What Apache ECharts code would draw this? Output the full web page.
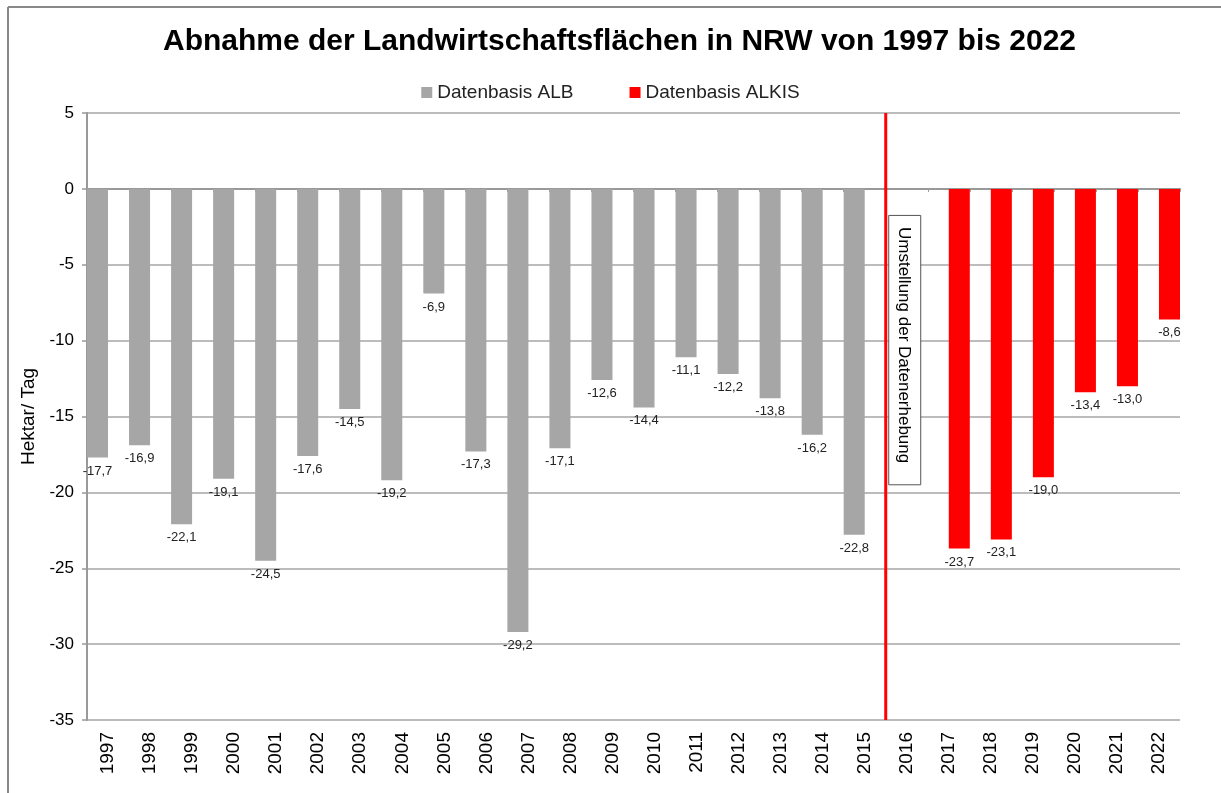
<!DOCTYPE html>
<html>
<head>
<meta charset="utf-8">
<script src="https://cdn.jsdelivr.net/npm/echarts@6/dist/echarts.min.js"></script>
<style>
  html, body { margin: 0; padding: 0; background: #fff; }
  #chart { width: 1221px; height: 793px; }
</style>
</head>
<body>
<div id="chart"></div>
<script>
// Jahre
const years = ['1997', '1998', '1999', '2000', '2001', '2002', '2003', '2004', '2005', '2006', '2007',
  '2008', '2009', '2010', '2011', '2012', '2013', '2014', '2015', '2016', '2017', '2018', '2019',
  '2020', '2021', '2022']

// Datenbasis ALB (bis 2015)
const albValues = [-17.7, -16.9, -22.1, -19.1, -24.5, -17.6, -14.5, -19.2, -6.9, -17.3, -29.2,
  -17.1, -12.6, -14.4, -11.1, -12.2, -13.8, -16.2, -22.8, null, null, null, null, null, null, null]

// Datenbasis ALKIS (ab 2017)
const alkisValues = [null, null, null, null, null, null, null, null, null, null, null,
  null, null, null, null, null, null, null, null, null, -23.7, -23.1, -19.0, -13.4, -13.0, -8.6]

const yTicks = { min: -35, max: 5, interval: 5 }

const fontFamily = '"Liberation Sans", Arial, sans-serif'

const chart = echarts.init(document.getElementById('chart'))

function labelFmt(p) {
  return p.value == null ? '' : p.value.toFixed(1).replace('.', ',')
}

chart.setOption({
  animation: false,
  textStyle: { fontFamily: fontFamily },
  title: {
    text: 'Abnahme der Landwirtschaftsflächen in NRW von 1997 bis 2022',
    left: 158,
    top: 22,
    textStyle: { fontSize: 30, fontWeight: 'bold', color: '#000', fontFamily: fontFamily }
  },
  legend: {
    top: 78,
    left: 'center',
    itemWidth: 11,
    itemHeight: 11,
    itemGap: 56,
    icon: 'rect',
    textStyle: { fontSize: 19, color: '#222', fontFamily: fontFamily },
    data: ['Datenbasis ALB', 'Datenbasis ALKIS']
  },
  grid: { left: 87, right: 41, top: 113, bottom: 73 },
  xAxis: [
    {
      type: 'category',
      data: years,
      position: 'bottom',
      axisLine: { show: false, onZero: false },
      axisTick: { show: false },
      axisLabel: { rotate: 90, fontSize: 19, color: '#000', margin: 12, fontFamily: fontFamily }
    },
    {
      type: 'category',
      data: years,
      position: 'top',
      axisLine: { show: true, onZero: true, lineStyle: { color: '#999', width: 2 } },
      axisTick: { show: true, inside: true, length: 3, lineStyle: { color: '#999' } },
      axisLabel: { show: false }
    }
  ],
  yAxis: {
    type: 'value',
    min: yTicks.min,
    max: yTicks.max,
    interval: yTicks.interval,
    name: 'Hektar/ Tag',
    nameLocation: 'middle',
    nameGap: 34,
    nameTextStyle: { fontSize: 19, color: '#000', fontFamily: fontFamily },
    axisLine: { show: true, lineStyle: { color: '#999', width: 2 } },
    axisTick: { show: true, length: 5, lineStyle: { color: '#999', width: 1.5 } },
    axisLabel: { fontSize: 17, color: '#000', margin: 13, fontFamily: fontFamily },
    splitLine: { lineStyle: { color: '#a6a6a6', width: 1.5 } }
  },
  series: [
    {
      name: 'Datenbasis ALB',
      type: 'bar',
      data: albValues,
      barGap: '0%',
      barCategoryGap: '0%',
      itemStyle: { color: '#a6a6a6' },
      label: {
        show: true,
        position: 'bottom',
        distance: 7,
        fontSize: 13,
        color: '#222',
        formatter: labelFmt
      }
    },
    {
      name: 'Datenbasis ALKIS',
      type: 'bar',
      data: alkisValues,
      barGap: '0%',
      barCategoryGap: '0%',
      itemStyle: { color: '#ff0000' },
      label: {
        show: true,
        position: 'bottom',
        distance: 7,
        fontSize: 13,
        color: '#222',
        formatter: labelFmt
      }
    }
  ]
})

// Umstellungslinie zwischen 2015 und 2016 + Hinweisbox
function drawAnnotations() {
  const x15 = chart.convertToPixel({ xAxisIndex: 0 }, '2015')
  const x16 = chart.convertToPixel({ xAxisIndex: 0 }, '2016')
  const xLine = (x15 + x16) / 2
  const yTop = chart.convertToPixel({ yAxisIndex: 0 }, yTicks.max)
  const yBottom = chart.convertToPixel({ yAxisIndex: 0 }, yTicks.min)
  const boxTop = chart.convertToPixel({ yAxisIndex: 0 }, -1.75)
  const boxBottom = chart.convertToPixel({ yAxisIndex: 0 }, -19.5)
  const boxLeft = xLine + 3
  const boxWidth = 32

  chart.setOption({
    graphic: [
      {
        type: 'line',
        shape: { x1: 8, y1: 7, x2: 1221, y2: 7 },
        style: { stroke: '#888', lineWidth: 2 }
      },
      {
        type: 'line',
        shape: { x1: 8, y1: 7, x2: 8, y2: 793 },
        style: { stroke: '#888', lineWidth: 2 }
      },
      {
        type: 'line',
        z: 10,
        shape: { x1: xLine, y1: yTop, x2: xLine, y2: yBottom },
        style: { stroke: '#ff0000', lineWidth: 3 }
      },
      {
        type: 'rect',
        z: 10,
        shape: { x: boxLeft, y: boxTop, width: boxWidth, height: boxBottom - boxTop },
        style: { fill: '#fff', stroke: '#555', lineWidth: 1 }
      },
      {
        type: 'text',
        z: 11,
        x: boxLeft + boxWidth / 2 - 1,
        y: (boxTop + boxBottom) / 2 - 5,
        rotation: -Math.PI / 2,
        style: {
          text: 'Umstellung der Datenerhebung',
          fontSize: 17,
          fontFamily: fontFamily,
          fill: '#000',
          align: 'center',
          verticalAlign: 'middle'
        }
      }
    ]
  })
}

drawAnnotations()
</script>
</body>
</html>
